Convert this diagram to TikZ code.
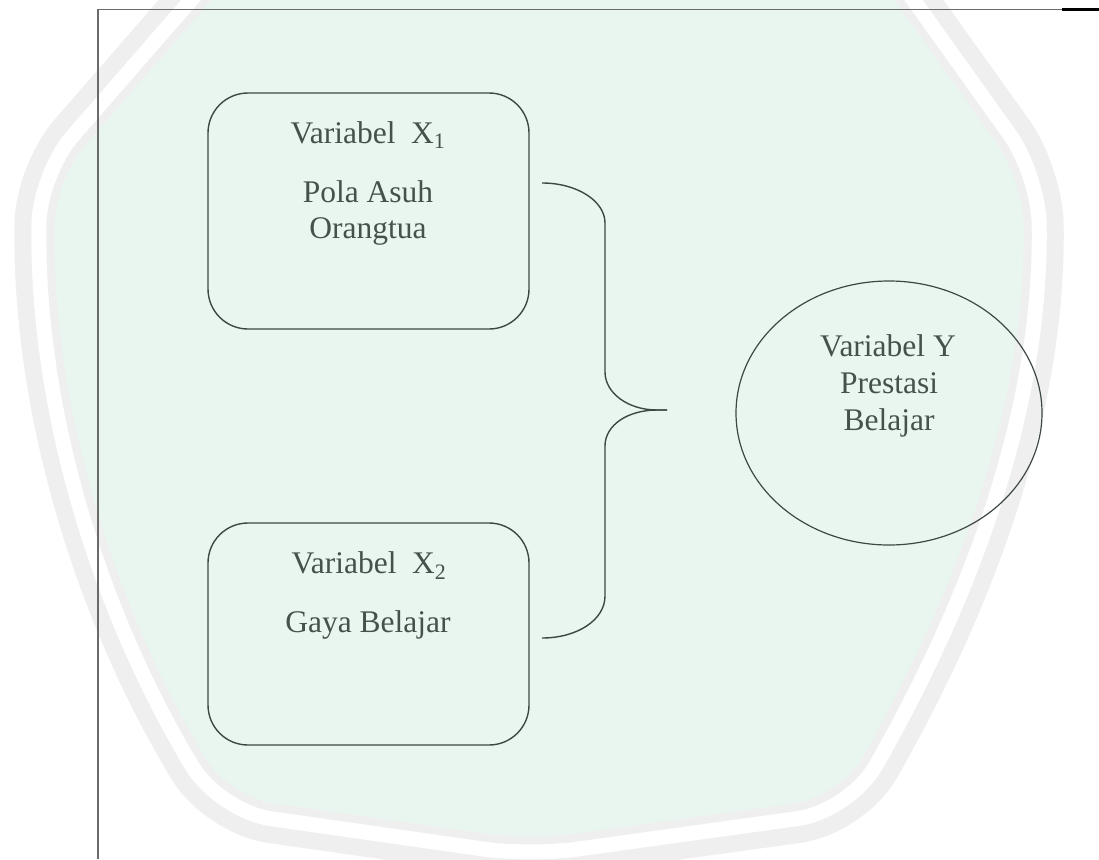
\documentclass[tikz,border=0pt]{standalone}
\usepackage{fontspec}
\setmainfont{Liberation Serif}
\usetikzlibrary{shapes.geometric}
\definecolor{ink}{HTML}{3E4843}
\definecolor{txt}{HTML}{46514C}
\definecolor{wmgreen}{HTML}{E9F5EF}
\definecolor{wmgray}{HTML}{EFEFEF}
\definecolor{frame}{HTML}{6A6A6A}
\begin{document}
\begin{tikzpicture}[x=1pt,y=-1pt,
  varbox/.style={draw=ink,line width=1.4pt,rounded corners=40pt,minimum width=321pt,inner sep=0pt},
  lbl/.style={text=txt,font=\fontsize{31.5}{37}\selectfont,anchor=base,inner sep=0pt},
  bracepath/.style={draw=ink,line width=1.4pt},
  wm/.style={rounded corners=45pt}]
\useasboundingbox (0,0) rectangle (1099,859);
% faint watermark background
\draw[wm,draw=wmgray,line width=80pt] (290,-90) -- (830,-90) -- (1023,180) .. controls (1026,380) and (975,560) .. (840,797) -- (530,840) -- (229,797) .. controls (110,600) and (52,400) .. (55,180) -- cycle;
\draw[wm,draw=white,line width=46pt] (290,-90) -- (830,-90) -- (1023,180) .. controls (1026,380) and (975,560) .. (840,797) -- (530,840) -- (229,797) .. controls (110,600) and (52,400) .. (55,180) -- cycle;
\draw[wm,draw=wmgray,line width=16pt] (290,-90) -- (830,-90) -- (1023,180) .. controls (1026,380) and (975,560) .. (840,797) -- (530,840) -- (229,797) .. controls (110,600) and (52,400) .. (55,180) -- cycle;
\fill[wm,wmgreen] (290,-90) -- (830,-90) -- (1023,180) .. controls (1026,380) and (975,560) .. (840,797) -- (530,840) -- (229,797) .. controls (110,600) and (52,400) .. (55,180) -- cycle;
% frame lines
\coordinate (ftl) at (98,9.5);
\coordinate (ftr) at (1062,9.5);
\coordinate (fend) at (1099,9.5);
\coordinate (fbl) at (98,859);
\draw[frame,line width=1.8pt] (fbl) -- (ftl) -- (ftr);
\draw[black,line width=3pt] (ftr) -- (fend);
% boxes
\node[varbox,minimum height=236pt] (box1) at (368.5,211) {};
\node[varbox,minimum height=222pt] (box2) at (368.5,634) {};
\node[draw=ink,line width=1.2pt,ellipse,minimum width=306pt,minimum height=264pt,inner sep=0pt] (ely) at (889,413) {};
% texts
\node[lbl] (x1a) at (368,143) {Variabel\ \ X\textsubscript{1}};
\node[lbl] (x1b) at (368,202) {Pola Asuh};
\node[lbl] (x1c) at (368,238) {Orangtua};
\node[lbl] (x2a) at (369,573) {Variabel\ \ X\textsubscript{2}};
\node[lbl] (x2b) at (368,632) {Gaya Belajar};
\node[lbl] (ya) at (888,356) {Variabel Y};
\node[lbl] (yb) at (889,393) {Prestasi};
\node[lbl] (yc) at (889,430) {Belajar};
% brace
\coordinate (bt) at (542,183);
\coordinate (bb) at (542,638);
\coordinate (tip) at (667,410);
\draw[bracepath] (bt) .. controls (577,183) and (605,201) .. (605,223) -- (605,372) .. controls (605,393) and (628,410) .. (657,410) -- (tip);
\draw[bracepath] (tip) -- (657,410) .. controls (628,410) and (605,425) .. (605,446) -- (605,596) .. controls (605,620) and (577,638) .. (bb);
\end{tikzpicture}
\end{document}
